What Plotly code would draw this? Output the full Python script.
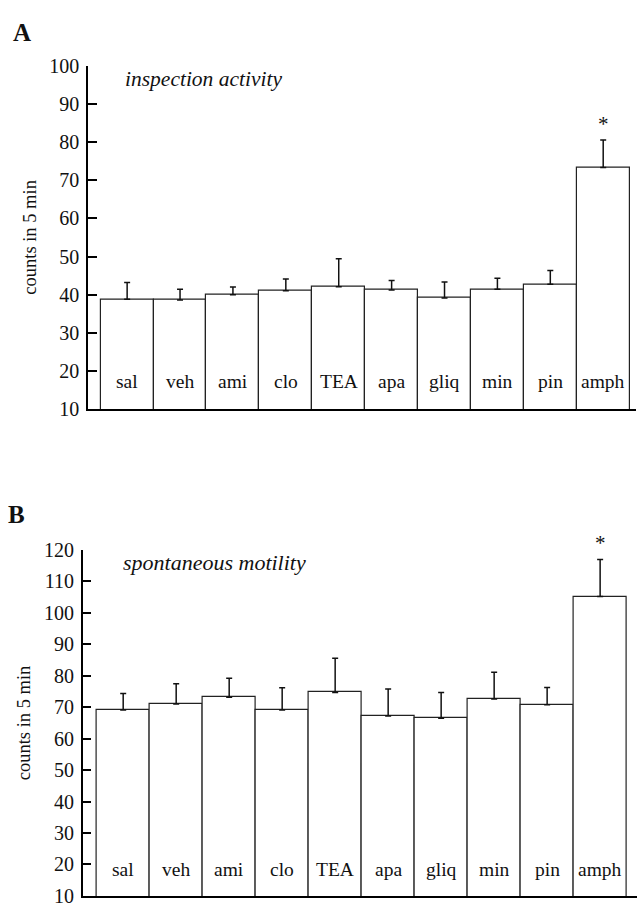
import plotly.graph_objects as go

categories = ["sal", "veh", "ami", "clo", "TEA", "apa", "gliq", "min", "pin", "amph"]

inspection_mean = [38.8, 38.6, 40.0, 41.0, 42.1, 41.2, 39.1, 41.4, 42.7, 73.3]
inspection_sem = [4.4, 2.8, 2.0, 3.1, 7.3, 2.5, 4.2, 2.9, 3.6, 7.2]

motility_mean = [69.1, 71.0, 73.2, 69.1, 74.7, 67.2, 66.5, 72.6, 70.8, 105.2]
motility_sem = [5.3, 6.5, 6.0, 7.1, 10.9, 8.6, 8.2, 8.5, 5.5, 11.8]

ticks_a = [10, 20, 30, 40, 50, 60, 70, 80, 90, 100]
ticks_b = [10, 20, 30, 40, 50, 60, 70, 80, 90, 100, 110, 120]

W, H = 637, 914
FONT = "Liberation Serif"

fig = go.Figure()

def add_panel(means, sems, xa, ya):
    fig.add_trace(go.Bar(
        x=categories, y=means, xaxis=xa, yaxis=ya,
        marker=dict(color="white", line=dict(color="#222", width=1.2)),
        error_y=dict(type="data", symmetric=False, array=sems,
                     arrayminus=[0] * len(sems), color="#111",
                     thickness=1.5, width=3),
        showlegend=False,
    ))

add_panel(inspection_mean, inspection_sem, "x", "y")
add_panel(motility_mean, motility_sem, "x2", "y2")

def px_x(v):
    return v / W

def px_y(v):
    return 1 - v / H

yax_common = dict(showline=True, linecolor="black", linewidth=1.5,
                  ticks="inside", ticklen=9, tickwidth=1.5, tickcolor="black",
                  showgrid=False, zeroline=False, ticklabelstandoff=3,
                  tickfont=dict(family=FONT, size=20, color="#111"),
                  title=dict(text="counts in 5 min",
                             font=dict(family=FONT, size=18.5, color="#111"),
                             standoff=8))
xax_common = dict(showline=True, linecolor="black", linewidth=1.5,
                  showticklabels=False, ticks="", showgrid=False,
                  zeroline=False, type="category")

fig.update_layout(
    width=W, height=H,
    margin=dict(l=0, r=0, t=0, b=0),
    paper_bgcolor="white", plot_bgcolor="white",
    bargap=0,
    font=dict(family=FONT),
    xaxis=dict(domain=[px_x(88), px_x(636)], range=[-0.74, 9.62],
               anchor="y", **xax_common),
    yaxis=dict(domain=[px_y(408), px_y(56)], range=[10, 100],
               tickvals=ticks_a, anchor="x", **yax_common),
    xaxis2=dict(domain=[px_x(82.7), px_x(636.7)], range=[-0.764, 9.69],
                anchor="y2", **xax_common),
    yaxis2=dict(domain=[px_y(906.7), px_y(552.3)], range=[10, 120],
                tickvals=ticks_b, anchor="x2", **yax_common),
)

annotations = []
for c in categories:
    annotations.append(dict(x=c, y=17.2, xref="x", yref="y", text=c,
                            showarrow=False,
                            font=dict(family=FONT, size=19.5, color="#111")))
    annotations.append(dict(x=c, y=18.3, xref="x2", yref="y2", text=c,
                            showarrow=False,
                            font=dict(family=FONT, size=19.5, color="#111")))

annotations += [
    dict(x="amph", y=px_y(116), xref="x", yref="paper", text="*",
         showarrow=False, yanchor="middle",
         font=dict(family=FONT, size=21, color="#111")),
    dict(x="amph", y=px_y(545), xref="x2", yref="paper", text="*",
         showarrow=False, yanchor="middle",
         font=dict(family=FONT, size=21, color="#111")),
    dict(x=px_x(123), y=px_y(70), xref="paper", yref="paper",
         text="<i>inspection activity</i>", showarrow=False,
         xanchor="left", yanchor="middle",
         font=dict(family=FONT, size=21.5, color="#111")),
    dict(x=px_x(121), y=px_y(565), xref="paper", yref="paper",
         text="<i>spontaneous motility</i>", showarrow=False,
         xanchor="left", yanchor="middle",
         font=dict(family=FONT, size=22, color="#111")),
    dict(x=px_x(11), y=px_y(22), xref="paper", yref="paper",
         text="<b>A</b>", showarrow=False, xanchor="left", yanchor="middle",
         font=dict(family=FONT, size=25, color="#111")),
    dict(x=px_x(6), y=px_y(516), xref="paper", yref="paper",
         text="<b>B</b>", showarrow=False, xanchor="left", yanchor="middle",
         font=dict(family=FONT, size=25, color="#111")),
]
fig.update_layout(annotations=annotations)

fig.write_html("out.html")
